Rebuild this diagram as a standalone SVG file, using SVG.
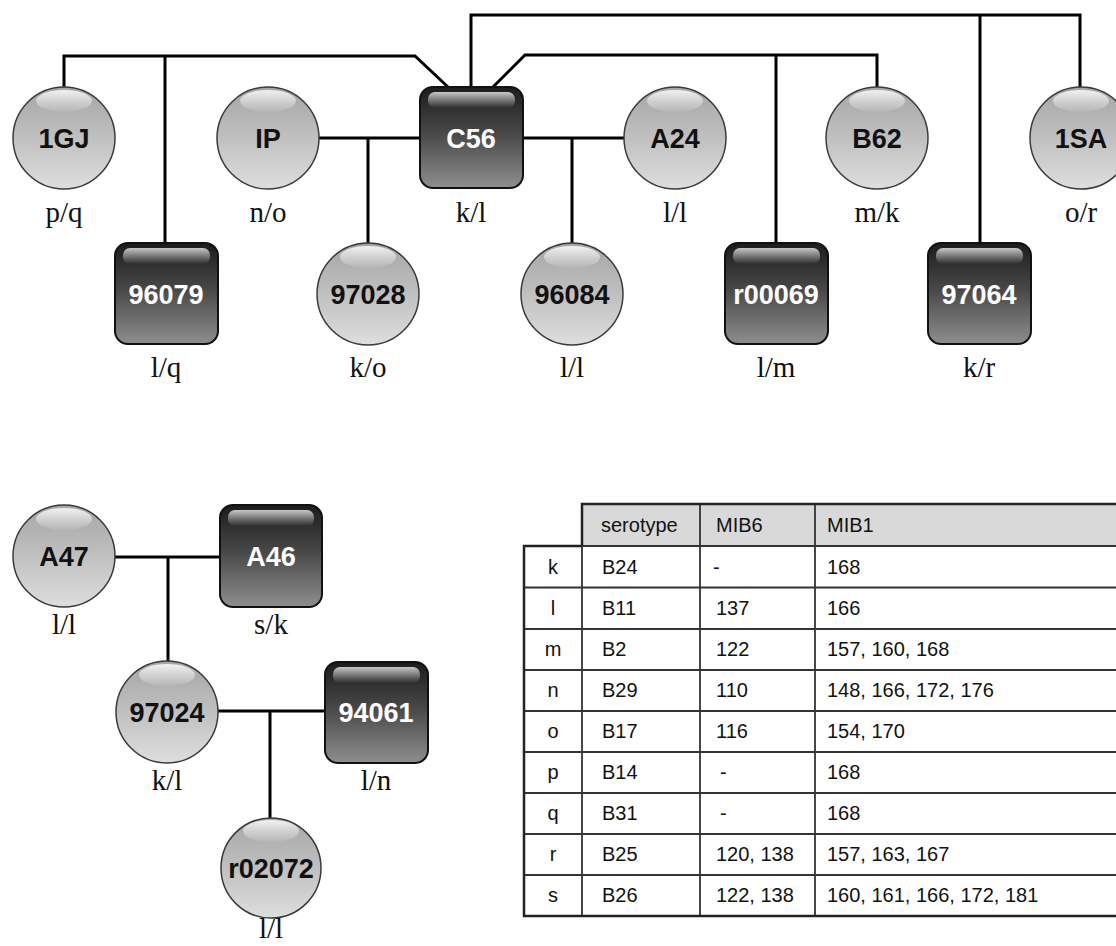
<svg xmlns="http://www.w3.org/2000/svg" width="1116" height="946" viewBox="0 0 1116 946">
<defs>
<linearGradient id="gc" x1="0" y1="0" x2="0" y2="1">
<stop offset="0" stop-color="#a6a6a6"/>
<stop offset="0.45" stop-color="#bdbdbd"/>
<stop offset="1" stop-color="#dedede"/>
</linearGradient>
<linearGradient id="gs" x1="0" y1="0" x2="0" y2="1">
<stop offset="0" stop-color="#1c1c1c"/>
<stop offset="0.45" stop-color="#474747"/>
<stop offset="1" stop-color="#8e8e8e"/>
</linearGradient>
<linearGradient id="gh" x1="0" y1="0" x2="0" y2="1">
<stop offset="0" stop-color="#ffffff" stop-opacity="0.85"/>
<stop offset="1" stop-color="#ffffff" stop-opacity="0.05"/>
</linearGradient>
<linearGradient id="gsh" x1="0" y1="0" x2="0" y2="1">
<stop offset="0" stop-color="#ffffff" stop-opacity="0.75"/>
<stop offset="1" stop-color="#ffffff" stop-opacity="0"/>
</linearGradient>
</defs>
<style>
.c{fill:url(#gc);stroke:#3a3a3a;stroke-width:1.5}
.s{fill:url(#gs);stroke:#111;stroke-width:2}
.ch{fill:url(#gh)}
.sh{fill:url(#gsh)}
.tc{font-family:"Liberation Sans",Arial,sans-serif;font-weight:bold;font-size:27px;fill:#111;text-anchor:middle}
.ts{font-family:"Liberation Sans",Arial,sans-serif;font-weight:bold;font-size:27px;fill:#fff;text-anchor:middle}
.lb{font-family:"Liberation Serif","Times New Roman",serif;font-size:29px;fill:#111;text-anchor:middle}
.ln{fill:none;stroke:#000;stroke-width:3}
.tt{font-family:"Liberation Sans",Arial,sans-serif;font-size:20px;fill:#111}
.tm{font-family:"Liberation Sans",Arial,sans-serif;font-size:20px;fill:#111;text-anchor:middle}
.grid{stroke:#333;stroke-width:1.8;fill:none}
.outer{stroke:#222;stroke-width:2.5;fill:none}
</style>
<rect width="1116" height="946" fill="#fff"/>
<g id="connectors">
<path class="ln" d="M64,87 V56 H415 L448,87"/>
<path class="ln" d="M165,56 V243"/>
<path class="ln" d="M471,87 V15 H1080 V87"/>
<path class="ln" d="M980,15 V243"/>
<path class="ln" d="M493,87 L525,55 H877 V87"/>
<path class="ln" d="M776,55 V243"/>
<path class="ln" d="M319,138 H420 M368,138 V243"/>
<path class="ln" d="M523,138 H624 M572,138 V243"/>
<path class="ln" d="M115,557 H220 M168,557 V662"/>
<path class="ln" d="M218,711 H325 M270,711 V818"/>
</g>
<g id="n1GJ"><circle class="c" cx="64" cy="138" r="51"/><ellipse class="ch" cx="64" cy="101" rx="28" ry="11"/><text class="tc" x="64" y="148">1GJ</text><text class="lb" x="64" y="222">p/q</text></g>
<g id="nIP"><circle class="c" cx="268" cy="138" r="51"/><ellipse class="ch" cx="268" cy="101" rx="28" ry="11"/><text class="tc" x="268" y="148">IP</text><text class="lb" x="268" y="222">n/o</text></g>
<g id="nC56"><rect class="s" x="420" y="87" width="103" height="101" rx="13"/><rect class="sh" x="428" y="92" width="87" height="16" rx="7"/><text class="ts" x="471" y="148">C56</text><text class="lb" x="471" y="222">k/l</text></g>
<g id="nA24"><circle class="c" cx="675" cy="138" r="51"/><ellipse class="ch" cx="675" cy="101" rx="28" ry="11"/><text class="tc" x="675" y="148">A24</text><text class="lb" x="675" y="222">l/l</text></g>
<g id="nB62"><circle class="c" cx="877" cy="138" r="51"/><ellipse class="ch" cx="877" cy="101" rx="28" ry="11"/><text class="tc" x="877" y="148">B62</text><text class="lb" x="877" y="222">m/k</text></g>
<g id="n1SA"><circle class="c" cx="1081" cy="138" r="51"/><ellipse class="ch" cx="1081" cy="101" rx="28" ry="11"/><text class="tc" x="1081" y="148">1SA</text><text class="lb" x="1081" y="222">o/r</text></g>
<g id="n96079"><rect class="s" x="115" y="243" width="103" height="101" rx="13"/><rect class="sh" x="123" y="248" width="87" height="16" rx="7"/><text class="ts" x="166" y="304">96079</text><text class="lb" x="166" y="377">l/q</text></g>
<g id="n97028"><circle class="c" cx="368" cy="294" r="51"/><ellipse class="ch" cx="368" cy="257" rx="28" ry="11"/><text class="tc" x="368" y="304">97028</text><text class="lb" x="368" y="377">k/o</text></g>
<g id="n96084"><circle class="c" cx="572" cy="294" r="51"/><ellipse class="ch" cx="572" cy="257" rx="28" ry="11"/><text class="tc" x="572" y="304">96084</text><text class="lb" x="572" y="377">l/l</text></g>
<g id="nr00069"><rect class="s" x="725" y="243" width="103" height="101" rx="13"/><rect class="sh" x="733" y="248" width="87" height="16" rx="7"/><text class="ts" x="776" y="304">r00069</text><text class="lb" x="776" y="377">l/m</text></g>
<g id="n97064"><rect class="s" x="928" y="243" width="103" height="101" rx="13"/><rect class="sh" x="936" y="248" width="87" height="16" rx="7"/><text class="ts" x="979" y="304">97064</text><text class="lb" x="979" y="377">k/r</text></g>
<g id="nA47"><circle class="c" cx="64" cy="556" r="51"/><ellipse class="ch" cx="64" cy="519" rx="28" ry="11"/><text class="tc" x="64" y="566">A47</text><text class="lb" x="64" y="634">l/l</text></g>
<g id="nA46"><rect class="s" x="220" y="505" width="102" height="102" rx="13"/><rect class="sh" x="228" y="510" width="86" height="16" rx="7"/><text class="ts" x="271" y="566">A46</text><text class="lb" x="271" y="634">s/k</text></g>
<g id="n97024"><circle class="c" cx="167" cy="712" r="51"/><ellipse class="ch" cx="167" cy="675" rx="28" ry="11"/><text class="tc" x="167" y="722">97024</text><text class="lb" x="167" y="790">k/l</text></g>
<g id="n94061"><rect class="s" x="325" y="662" width="103" height="101" rx="13"/><rect class="sh" x="333" y="667" width="87" height="16" rx="7"/><text class="ts" x="376" y="722">94061</text><text class="lb" x="376" y="790">l/n</text></g>
<g id="nr02072"><circle class="c" cx="271" cy="868" r="50"/><ellipse class="ch" cx="271" cy="831" rx="28" ry="11"/><text class="tc" x="271" y="878">r02072</text><text class="lb" x="271" y="938">l/l</text></g>
<g id="table">
<rect x="582" y="504" width="540" height="42" fill="#d9d9d9"/>
<path class="grid" d="M524,587.5 H1120 M524,629 H1120 M524,670 H1120 M524,711 H1120 M524,752 H1120 M524,793 H1120 M524,834 H1120 M524,875 H1120 M582,504 V916 M700,504 V916 M815,504 V916"/>
<path class="outer" d="M1120,504 H582 V546 H524 V916 H1120"/>
<path class="grid" d="M582,546 H1120"/>
<text class="tt" x="601" y="532">serotype</text><text class="tt" x="716" y="532">MIB6</text><text class="tt" x="827" y="532">MIB1</text>
<text class="tm" x="553" y="574">k</text><text class="tt" x="602" y="574">B24</text><text class="tt" x="713" y="574">-</text><text class="tt" x="827" y="574">168</text>
<text class="tm" x="553" y="615">l</text><text class="tt" x="602" y="615">B11</text><text class="tt" x="716" y="615">137</text><text class="tt" x="827" y="615">166</text>
<text class="tm" x="553" y="656">m</text><text class="tt" x="602" y="656">B2</text><text class="tt" x="716" y="656">122</text><text class="tt" x="827" y="656">157, 160, 168</text>
<text class="tm" x="553" y="697">n</text><text class="tt" x="602" y="697">B29</text><text class="tt" x="716" y="697">110</text><text class="tt" x="827" y="697">148, 166, 172, 176</text>
<text class="tm" x="553" y="738">o</text><text class="tt" x="602" y="738">B17</text><text class="tt" x="716" y="738">116</text><text class="tt" x="827" y="738">154, 170</text>
<text class="tm" x="553" y="779">p</text><text class="tt" x="602" y="779">B14</text><text class="tt" x="720" y="779">-</text><text class="tt" x="827" y="779">168</text>
<text class="tm" x="553" y="820">q</text><text class="tt" x="602" y="820">B31</text><text class="tt" x="720" y="820">-</text><text class="tt" x="827" y="820">168</text>
<text class="tm" x="553" y="861">r</text><text class="tt" x="602" y="861">B25</text><text class="tt" x="716" y="861">120, 138</text><text class="tt" x="827" y="861">157, 163, 167</text>
<text class="tm" x="553" y="902">s</text><text class="tt" x="602" y="902">B26</text><text class="tt" x="716" y="902">122, 138</text><text class="tt" x="827" y="902">160, 161, 166, 172, 181</text>
</g>
</svg>
